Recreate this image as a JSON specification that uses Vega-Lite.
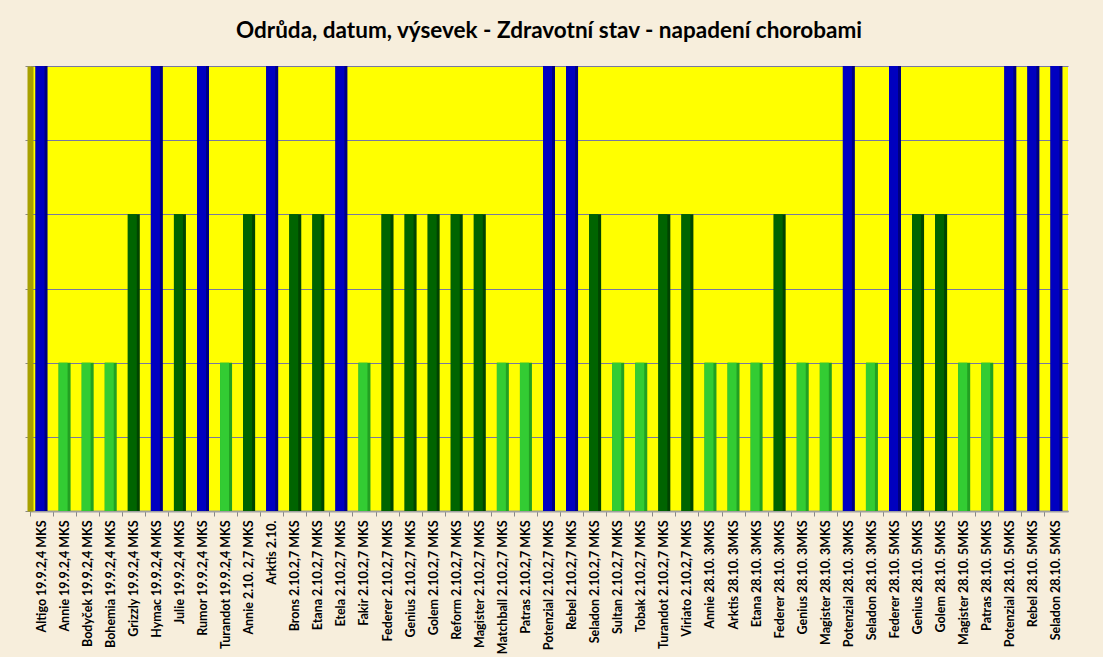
{
  "$schema": "https://vega.github.io/schema/vega-lite/v6.json",
  "autosize": {"type": "none"},
  "width": 1038,
  "height": 445,
  "padding": {"left": 30, "top": 66, "right": 35, "bottom": 146},
  "background": "#F7EEDC",
  "title": {
    "text": "Odrůda, datum, výsevek -  Zdravotní stav - napadení chorobami",
    "font": "Lato",
    "fontSize": 22.5,
    "fontWeight": "bold",
    "color": "#000000",
    "anchor": "middle",
    "offset": 23
  },
  "config": {
    "view": {"fill": "#FFFF00", "stroke": null},
    "axis": {"labelFont": "Lato", "titleFont": "Lato"}
  },
  "data": {
    "values": [
      {"odruda": "Altigo 19.9.2,4 MKS", "stav": 6},
      {"odruda": "Annie 19.9.2,4 MKS", "stav": 2},
      {"odruda": "Bodyček 19.9.2,4 MKS", "stav": 2},
      {"odruda": "Bohemia 19.9.2,4 MKS", "stav": 2},
      {"odruda": "Grizzly 19.9.2,4 MKS", "stav": 4},
      {"odruda": "Hymac 19.9.2,4 MKS", "stav": 6},
      {"odruda": "Julie 19.9.2,4 MKS", "stav": 4},
      {"odruda": "Rumor 19.9.2,4 MKS", "stav": 6},
      {"odruda": "Turandot 19.9.2,4 MKS", "stav": 2},
      {"odruda": "Annie 2.10. 2,7 MKS", "stav": 4},
      {"odruda": "Arktis 2.10.", "stav": 6},
      {"odruda": "Brons 2.10.2,7 MKS", "stav": 4},
      {"odruda": "Etana 2.10.2,7 MKS", "stav": 4},
      {"odruda": "Etela 2.10.2,7 MKS", "stav": 6},
      {"odruda": "Fakir 2.10.2,7 MKS", "stav": 2},
      {"odruda": "Federer 2.10.2,7 MKS", "stav": 4},
      {"odruda": "Genius 2.10.2,7 MKS", "stav": 4},
      {"odruda": "Golem 2.10.2,7 MKS", "stav": 4},
      {"odruda": "Reform 2.10.2,7 MKS", "stav": 4},
      {"odruda": "Magister 2.10.2,7 MKS", "stav": 4},
      {"odruda": "Matchball 2.10.2,7 MKS", "stav": 2},
      {"odruda": "Patras 2.10.2,7 MKS", "stav": 2},
      {"odruda": "Potenzial 2.10.2,7 MKS", "stav": 6},
      {"odruda": "Rebel 2.10.2,7 MKS", "stav": 6},
      {"odruda": "Seladon 2.10.2,7 MKS", "stav": 4},
      {"odruda": "Sultan 2.10.2,7 MKS", "stav": 2},
      {"odruda": "Tobak 2.10.2,7 MKS", "stav": 2},
      {"odruda": "Turandot 2.10.2,7 MKS", "stav": 4},
      {"odruda": "Viriato 2.10.2,7 MKS", "stav": 4},
      {"odruda": "Annie 28.10. 3MKS", "stav": 2},
      {"odruda": "Arktis 28.10. 3MKS", "stav": 2},
      {"odruda": "Etana 28.10. 3MKS", "stav": 2},
      {"odruda": "Federer 28.10. 3MKS", "stav": 4},
      {"odruda": "Genius 28.10. 3MKS", "stav": 2},
      {"odruda": "Magister 28.10. 3MKS", "stav": 2},
      {"odruda": "Potenzial 28.10. 3MKS", "stav": 6},
      {"odruda": "Seladon 28.10. 3MKS", "stav": 2},
      {"odruda": "Federer 28.10. 5MKS", "stav": 6},
      {"odruda": "Genius 28.10. 5MKS", "stav": 4},
      {"odruda": "Golem 28.10. 5MKS", "stav": 4},
      {"odruda": "Magister 28.10. 5MKS", "stav": 2},
      {"odruda": "Patras 28.10. 5MKS", "stav": 2},
      {"odruda": "Potenzial 28.10. 5MKS", "stav": 6},
      {"odruda": "Rebel 28.10. 5MKS", "stav": 6},
      {"odruda": "Seladon 28.10. 5MKS", "stav": 6}
    ]
  },
  "encoding": {
    "x": {
      "field": "odruda",
      "type": "nominal",
      "sort": null,
      "title": null,
      "scale": {"paddingInner": 0, "paddingOuter": 0},
      "axis": {
        "labelAngle": -90,
        "labelAlign": "right",
        "labelBaseline": "middle",
        "labelFontSize": 12.5,
        "labelFontWeight": "bold",
        "labelColor": "#000000",
        "labelPadding": 4,
        "labelOverlap": false,
        "bandPosition": 0,
        "tickSize": 5,
        "tickColor": "#888888",
        "domainColor": "#A0A0A0",
        "domainWidth": 2
      }
    },
    "y": {
      "field": "stav",
      "type": "quantitative",
      "title": null,
      "scale": {"domain": [0, 6], "nice": false},
      "axis": {
        "values": [0, 1, 2, 3, 4, 5, 6],
        "labels": false,
        "ticks": true,
        "tickSize": 5,
        "tickColor": "#888888",
        "domainColor": "#A8A000",
        "domainWidth": 6,
        "grid": true,
        "gridColor": "#7878A0",
        "gridWidth": 1,
        "gridOpacity": 1
      }
    }
  },
  "layer": [
    {
      "mark": {"type": "bar", "width": 12, "xOffset": 0},
      "encoding": {
        "color": {
          "field": "stav",
          "type": "ordinal",
          "legend": null,
          "scale": {"domain": [2, 4, 6], "range": ["#22A022", "#004400", "#000080"]}
        }
      }
    },
    {
      "mark": {"type": "bar", "width": 9, "xOffset": -1.5},
      "encoding": {
        "color": {
          "field": "stav",
          "type": "ordinal",
          "legend": null,
          "scale": {"domain": [2, 4, 6], "range": ["#33CC33", "#006400", "#0000C0"]}
        }
      }
    }
  ],
  "resolve": {"scale": {"color": "independent"}}
}
